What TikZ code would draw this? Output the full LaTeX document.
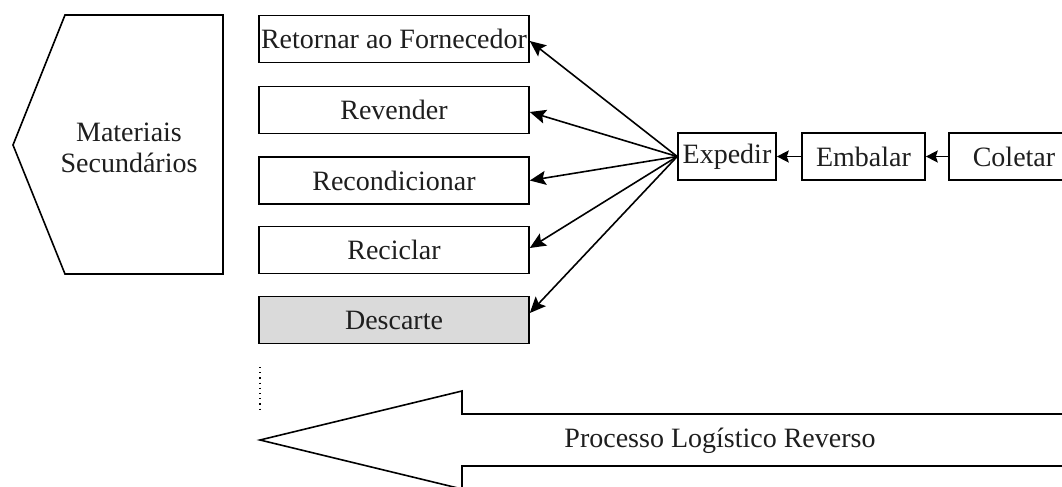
\documentclass[tikz,border=0pt]{standalone}
\usepackage{fontspec}
\setmainfont{Liberation Serif}
\usetikzlibrary{arrows.meta}
\definecolor{discardfill}{RGB}{218,218,218}
\definecolor{inkgray}{RGB}{30,30,30}
\begin{document}
\begin{tikzpicture}[x=0.5pt,y=-0.5pt,
  txt/.style={font=\fontsize{14}{15.5}\selectfont, text=inkgray},
  box/.style={draw, line width=0.8pt, minimum width=135pt, minimum height=23.5pt, inner sep=0pt, txt},
  stepbox/.style={draw, line width=0.8pt, minimum height=23.5pt, inner sep=0pt, txt},
  outline/.style={draw, line width=0.8pt},
  link/.style={line width=0.8pt, -{Stealth[length=8pt,width=7pt,inset=1.5pt]}},
  feed/.style={line width=0.8pt, -{Stealth[length=6pt,width=6pt,inset=1pt]}}]
\useasboundingbox (0,0) rectangle (1062,487);
\clip (0,0) rectangle (1062,487);

% secondary materials block (pointing left)
\path[outline] (65,15) -- (223,15) -- (223,274) -- (65,274) -- (13,145) -- cycle;
\node[txt, align=center] (mat) at (129,148) {Materiais\\Secundários};

% destinations
\node[box] (ret)  at (394,39)    {Retornar ao Fornecedor};
\node[box] (rev)  at (394,110)   {Revender};
\node[box] (rec)  at (394,180.5) {Recondicionar};
\node[box] (recl) at (394,250)   {Reciclar};
\node[box, fill=discardfill] (desc) at (394,320) {Descarte};

% collection chain
\node[stepbox, minimum width=49pt]   (exp) at (727,156.5)   {Expedir};
\node[stepbox, minimum width=61.5pt] (emb) at (863.5,156.5) {Embalar};
\node[stepbox, minimum width=66pt]   (col) at (1015,156.5)  {\hspace*{-1pt}Coletar};

\draw[feed] (col.west) -- (emb.east);
\draw[feed] (emb.west) -- (exp.east);

\draw[link] (exp.west) -- ([yshift=-1pt]ret.east);
\draw[link] (exp.west) -- ([yshift=-1pt]rev.east);
\draw[link] (exp.west) -- (rec.east);
\draw[link] (exp.west) -- ([yshift=1pt]recl.east);
\draw[link] (exp.west) -- ([yshift=3.5pt]desc.east);

% dotted marker
\draw[dotted, line width=0.6pt] (260,367) -- (260,413);

% reverse logistics arrow
\path[outline] (1080,414) -- (462,414) -- (462,391) -- (260,440) -- (462,489) -- (462,466) -- (1080,466);
\node[txt] (proc) at (720,441) {Processo Logístico Reverso};
\end{tikzpicture}
\end{document}
